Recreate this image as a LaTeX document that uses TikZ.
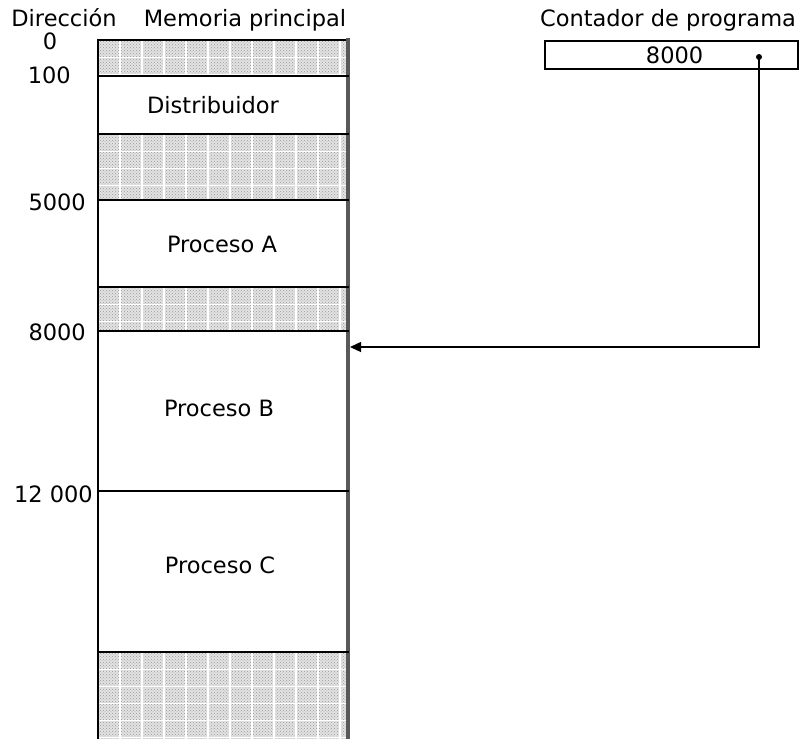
\documentclass[tikz,border=0pt]{standalone}
\usepackage{fontspec}
\setmainfont{DejaVu Sans}
\usetikzlibrary{patterns,arrows.meta}

\tikzset{
  lbl/.style={inner sep=0pt, font=\fontsize{22.5}{26}\selectfont},
  memblk/.style={anchor=north west, minimum width=250pt, inner sep=0pt, outer sep=0pt},
  freeblk/.style={memblk, path picture={
      \fill[gray!22] (path picture bounding box.south west) rectangle (path picture bounding box.north east);
      \fill[pattern=crosshatch dots, pattern color=gray!80] (path picture bounding box.south west) rectangle (path picture bounding box.north east);
      \foreach \k in {1,...,11}
        \draw[white, line width=1.2pt] ([xshift=\k*22pt]path picture bounding box.north west) -- ([xshift=\k*22pt]path picture bounding box.south west);
      \foreach \k in {1,...,5}
        \draw[white, line width=1pt] ([yshift=-\k*17pt]path picture bounding box.north west) -- ([yshift=-\k*17pt]path picture bounding box.north east);
  }},
  wall/.style={line width=2.8pt, line cap=rect},
  link/.style={line width=1.3pt}
}

\begin{document}
\begin{tikzpicture}[x=1pt, y=-1pt]
  \useasboundingbox (0,0) rectangle (804,739);

  % column headers
  \node[lbl, anchor=base] (hdir) at (64,26) {Dirección};
  \node[lbl, anchor=base] (hmem) at (245,26) {Memoria principal};

  % memory blocks, top to bottom
  \node[freeblk, minimum height=36pt]  (b0)   at (98,40)  {};
  \node[memblk,  minimum height=58pt]  (dist) at (98,76)  {};
  \node[freeblk, minimum height=66pt]  (b1)   at (98,134) {};
  \node[memblk,  minimum height=87pt]  (pa)   at (98,200) {};
  \node[freeblk, minimum height=44pt]  (b2)   at (98,287) {};
  \node[memblk,  minimum height=160pt] (pb)   at (98,331) {};
  \node[memblk,  minimum height=161pt] (pc)   at (98,491) {};
  \node[freeblk, minimum height=92pt]  (b3)   at (98,652) {};

  \node[lbl] at ([xshift=-10pt]dist.center) {Distribuidor};
  \node[lbl] at ([xshift=-1pt, yshift=-1pt]pa.center) {Proceso A};
  \node[lbl] at ([xshift=-4pt, yshift=3pt]pb.center) {Proceso B};
  \node[lbl] at ([xshift=-3pt, yshift=6pt]pc.center) {Proceso C};

  % outline and dividers
  \draw[wall] (b3.south west) -- (b0.north west) -- (b0.north east);
  \draw[wall, gray!70!black, line width=3.4pt] (b0.north east) -- (b3.south east);
  \foreach \n in {dist,b1,pa,b2,pb,pc,b3}
    \draw[wall] (\n.north west) -- (\n.north east);

  % addresses
  \node[lbl, anchor=base] (a0) at (50,49) {0};
  \node[lbl, anchor=east] (a100)   at (71,75)  {100};
  \node[lbl, anchor=east] (a5000)  at (86,202) {5000};
  \node[lbl, anchor=east] (a8000)  at (86,332) {8000};
  \node[lbl, anchor=east] (a12000) at (93,494) {12 000};

  % program counter
  \node[lbl, anchor=base] (hpc) at (668,26) {Contador de programa};
  \node[draw, line width=2.2pt, anchor=north west, minimum width=253pt, minimum height=28pt,
        inner sep=0pt, font=\fontsize{22.5}{26}\selectfont] (pcbox) at (544,40) {\hspace*{6pt}8000};
  \node[circle, fill, inner sep=0pt, minimum size=6pt] (dot) at (759,57) {};
  \coordinate (tgt) at (350,347);
  \draw[link, -{Triangle[length=11pt, width=10pt]}] (dot.center) |- (tgt);
\end{tikzpicture}
\end{document}
